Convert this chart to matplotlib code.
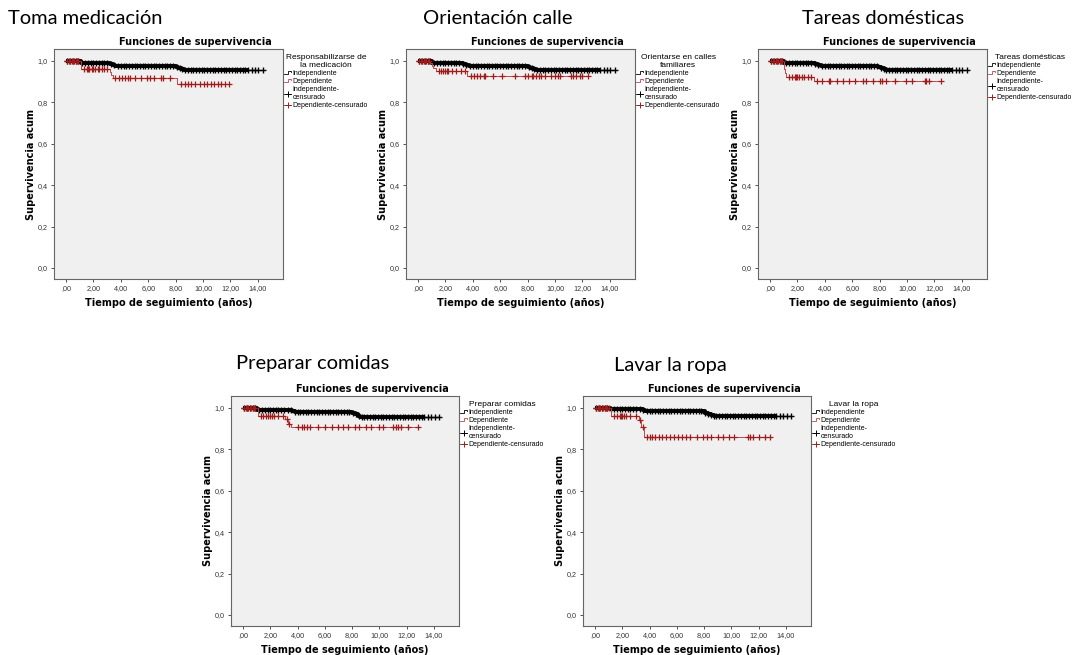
import numpy as np
import matplotlib
matplotlib.use("Agg")
import matplotlib.pyplot as plt
from matplotlib.lines import Line2D
from matplotlib.legend_handler import HandlerBase

# ---- data ----
titles = ["Toma medicación", "Orientación calle", "Tareas domésticas",
          "Preparar comidas", "Lavar la ropa"]
legend_titles = ["Responsabilizarse de\nla medicación", "Orientarse en calles\nfamiliares",
                 "Tareas domésticas", "Preparar comidas", "Lavar la ropa"]

# Independiente: event times / survival after each event
ind_t = [
    [1.1, 3.2, 3.4, 3.6, 8.0, 8.2, 8.4, 8.6],
    [1.0, 3.3, 3.5, 3.7, 8.0, 8.2, 8.4, 8.6],
    [1.0, 3.3, 3.5, 3.7, 7.9, 8.1, 8.3, 8.5],
    [1.0, 3.4, 3.6, 3.8, 8.0, 8.2, 8.4, 8.6],
    [1.1, 3.5, 3.7, 3.9, 8.1, 8.3, 8.5, 8.7],
]
ind_s = [
    [0.990, 0.986, 0.981, 0.977, 0.972, 0.966, 0.961, 0.957],
    [0.990, 0.986, 0.981, 0.977, 0.971, 0.965, 0.960, 0.955],
    [0.990, 0.986, 0.981, 0.977, 0.971, 0.965, 0.960, 0.955],
    [0.992, 0.988, 0.985, 0.982, 0.975, 0.969, 0.963, 0.958],
    [0.993, 0.990, 0.987, 0.985, 0.977, 0.970, 0.965, 0.962],
]
ind_end = [14.4, 14.4, 14.4, 14.4, 14.4]
ind_cens = [0.1, 0.3, 0.5, 0.7, 0.9, 1.2, 1.4, 1.6, 1.8, 2.0, 2.2, 2.4, 2.6, 2.8, 3.0,
            3.3, 3.5, 3.8, 4.0, 4.2, 4.4, 4.6, 4.8, 5.0, 5.2, 5.4, 5.6, 5.8, 6.0, 6.2,
            6.4, 6.6, 6.8, 7.0, 7.2, 7.4, 7.6, 7.8, 8.1, 8.3, 8.5, 8.7, 8.9, 9.1, 9.3,
            9.5, 9.7, 9.9, 10.1, 10.3, 10.5, 10.7, 10.9, 11.1, 11.3, 11.5, 11.7, 11.9,
            12.1, 12.3, 12.5, 12.7, 12.9, 13.1, 13.3, 13.55, 13.8, 14.05, 14.4]

# Dependiente
dep_t = [
    [1.1, 3.2, 3.3, 3.4, 8.1],
    [0.9, 1.0, 1.1, 1.3, 3.6],
    [1.0, 1.05, 1.1, 1.2, 3.2],
    [1.1, 3.1, 3.3, 3.5],
    [1.15, 3.2, 3.35, 3.6],
]
dep_s = [
    [0.963, 0.945, 0.930, 0.918, 0.891],
    [0.988, 0.976, 0.964, 0.953, 0.928],
    [0.980, 0.960, 0.940, 0.921, 0.903],
    [0.961, 0.945, 0.925, 0.906],
    [0.963, 0.940, 0.910, 0.860],
]
dep_end = [12.0, 12.4, 12.5, 12.8, 12.8]
dep_cens = [
    [0.1, 0.2, 0.3, 0.4, 0.5, 0.6, 0.7, 0.8, 0.9, 1.3, 1.5, 1.6, 1.7, 1.9, 2.0, 2.1,
     2.3, 2.4, 2.6, 2.8, 3.0, 3.6, 3.9, 4.1, 4.3, 4.5, 4.7, 5.0, 5.5, 5.9, 6.1, 6.4,
     6.9, 7.1, 7.6, 8.4, 8.7, 8.9, 9.1, 9.4, 9.8, 10.1, 10.3, 10.6, 10.8, 11.1, 11.3,
     11.6, 11.9],
    [0.1, 0.2, 0.3, 0.4, 0.5, 0.6, 0.7, 0.8, 1.5, 1.7, 1.8, 2.0, 2.1, 2.2, 2.5, 2.8,
     3.1, 3.4, 3.9, 4.1, 4.3, 4.5, 4.8, 4.9, 5.5, 6.1, 7.1, 7.8, 8.0, 8.3, 8.4, 8.6,
     8.8, 9.0, 9.3, 9.7, 10.0, 10.2, 10.4, 11.2, 11.3, 11.5, 11.8, 12.0, 12.4],
    [0.1, 0.2, 0.3, 0.4, 0.5, 0.6, 0.7, 0.8, 0.9, 1.4, 1.6, 1.8, 1.9, 2.0, 2.1, 2.3,
     2.5, 2.8, 3.0, 3.4, 3.8, 4.3, 4.4, 4.9, 5.3, 5.8, 6.2, 6.8, 7.0, 7.5, 8.0, 8.2,
     8.5, 9.1, 9.9, 10.4, 11.3, 11.4, 11.6, 12.5],
    [0.1, 0.2, 0.3, 0.4, 0.5, 0.6, 0.7, 0.8, 0.9, 1.3, 1.5, 1.7, 1.8, 2.0, 2.1, 2.3,
     2.6, 2.9, 3.2, 3.4, 4.0, 4.3, 4.5, 4.7, 4.9, 5.5, 6.0, 6.5, 7.0, 7.3, 7.7, 8.2,
     8.5, 9.0, 9.4, 10.0, 10.3, 11.0, 11.2, 11.4, 11.6, 12.1, 12.8],
    [0.1, 0.2, 0.3, 0.4, 0.5, 0.6, 0.7, 0.8, 0.9, 1.0, 1.4, 1.6, 1.8, 1.9, 2.0, 2.1,
     2.3, 2.6, 3.0, 3.3, 3.5, 3.8, 4.0, 4.2, 4.4, 4.7, 4.9, 5.2, 5.5, 5.8, 6.1, 6.4,
     6.7, 7.0, 7.5, 7.9, 8.2, 8.5, 9.0, 9.4, 9.8, 10.2, 11.2, 11.4, 11.6, 12.0, 12.5,
     12.8],
]

xticks = [0, 2, 4, 6, 8, 10, 12, 14]
xticklabels = [",00", "2,00", "4,00", "6,00", "8,00", "10,00", "12,00", "14,00"]
yticks = [0.0, 0.2, 0.4, 0.6, 0.8, 1.0]
yticklabels = ["0,0", "0,2", "0,4", "0,6", "0,8", "1,0"]

# ---- layout (pixels) ----
W, H = 1075, 655
boxes = [(54, 49, 229, 230), (406, 49, 229, 230), (758, 49, 229, 230),
         (231, 396, 228, 230), (583, 396, 228, 230)]
title_pos = [(8, 18), (423, 18), (802, 18), (236, 364), (614, 365)]

BLACK = "#000000"
RED_LINE = "#c04848"
RED_MARK = "#a01c1c"
SMALL = ["Liberation Sans", "DejaVu Sans"]


class StepHandler(HandlerBase):
    # little SPSS-like step icon
    def create_artists(self, legend, orig_handle, xdescent, ydescent, width,
                       height, fontsize, trans):
        x0, x1 = -xdescent, -xdescent + width
        xm = x0 + width * 0.55
        yl, yh = -ydescent + height * 0.15, -ydescent + height * 0.85
        ln = Line2D([x0, xm, xm, x1, x1], [yl, yl, yh, yh, yh - height * 0.35],
                    color=orig_handle.get_color(), lw=0.6, transform=trans)
        return [ln]


fig = plt.figure(figsize=(W / 100, H / 100), dpi=100)
fig.patch.set_facecolor("white")


def step_xy(t, s, end):
    x = [0.0] + list(t) + [end]
    y = [1.0] + list(s) + [s[-1]]
    return x, y


def surv_at(t, s, times):
    idx = np.searchsorted(np.asarray(t), np.asarray(times), side="right")
    vals = np.concatenate([[1.0], s])
    return vals[idx]


for i in range(5):
    l, tp, w, h = boxes[i]
    ax = fig.add_axes([l / W, 1 - (tp + h) / H, w / W, h / H])
    ax.set_facecolor("#f0f0f0")

    x, y = step_xy(ind_t[i], ind_s[i], ind_end[i])
    band = [xx for xx in x if xx <= 13.35]
    ax.plot(x[:len(band)] + [13.35], y[:len(band)] + [y[len(band) - 1]],
            drawstyle="steps-post", color=BLACK, lw=2.8, solid_capstyle="butt")
    ax.plot(x, y, drawstyle="steps-post", color=BLACK, lw=0.8)
    ax.plot(ind_cens, surv_at(ind_t[i], ind_s[i], ind_cens), ls="none",
            marker="+", ms=4.5, mew=1.0, color=BLACK)

    x, y = step_xy(dep_t[i], dep_s[i], dep_end[i])
    ax.plot(x, y, drawstyle="steps-post", color=RED_LINE, lw=0.7)
    ax.plot(dep_cens[i], surv_at(dep_t[i], dep_s[i], dep_cens[i]), ls="none",
            marker="+", ms=4.5, mew=0.9, color=RED_MARK)

    ax.set_xlim(-0.88, 15.84)
    ax.set_ylim(-0.053, 1.058)
    ax.set_xticks(xticks)
    ax.set_xticklabels(xticklabels, family=SMALL)
    ax.set_yticks(yticks)
    ax.set_yticklabels(yticklabels, family=SMALL)
    ax.tick_params(labelsize=5.2, colors="#333333", length=2.5, width=0.6, pad=2)
    for sp in ax.spines.values():
        sp.set_color("#666666")
        sp.set_linewidth(0.8)

    ax.set_xlabel("Tiempo de seguimiento (años)", fontsize=7, fontweight="bold", labelpad=4)
    ax.set_ylabel("Supervivencia acum", fontsize=7, fontweight="bold", labelpad=1)

    # chart title, centred on the whole chart (axes + legend)
    cx = (l + w / 2 + 27) / W
    fig.text(cx, 1 - (tp - 7) / H, "Funciones de supervivencia", ha="center",
             va="center", fontsize=7, fontweight="bold")

    # big slide title
    tx, ty = title_pos[i]
    fig.text(tx / W, 1 - ty / H, titles[i], ha="left", va="center",
             fontsize=14.5, family=["Lato", "DejaVu Sans"])

    handles = [
        Line2D([], [], color=BLACK),
        Line2D([], [], color=RED_LINE),
        Line2D([], [], color=BLACK, lw=0.6, marker="+", ms=5, mew=0.7),
        Line2D([], [], color=RED_MARK, lw=0.6, marker="+", ms=5, mew=0.7),
    ]
    labels = ["Independiente", "Dependiente", "Independiente-\ncensurado",
              "Dependiente-censurado"]
    step_h = StepHandler()
    leg = ax.legend(handles, labels, title=legend_titles[i], loc="upper left",
                    bbox_to_anchor=(1.0, 0.985), frameon=False,
                    prop={"family": SMALL, "size": 5},
                    handlelength=1.0, handletextpad=0.15,
                    borderaxespad=0.1, labelspacing=0.15, borderpad=0.1,
                    handler_map={handles[0]: step_h, handles[1]: step_h})
    leg.get_title().set_fontsize(6)
    leg.get_title().set_family(SMALL)
    leg.get_title().set_multialignment("center")
    leg._legend_box.align = "center"

fig.savefig("out.png", dpi=100)
